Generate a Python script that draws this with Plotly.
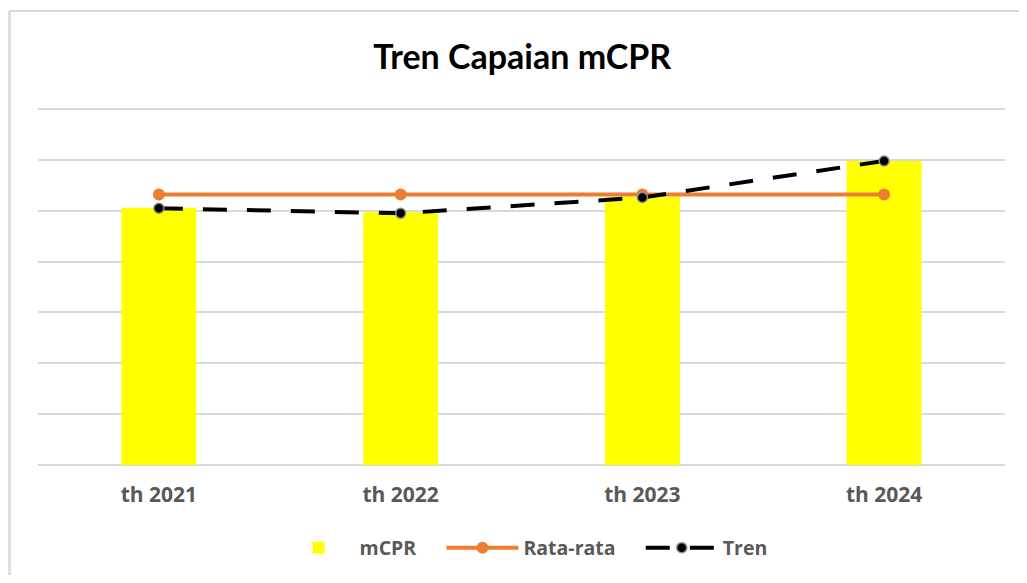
"""Tren Capaian mCPR chart"""

import plotly.graph_objects as go

YEARS = ["th 2021", "th 2022", "th 2023", "th 2024"]
MCPR = [50.6, 49.7, 52.7, 59.8]
RATA_RATA = [53.2, 53.2, 53.2, 53.2]
TREN = [50.5, 49.5, 52.6, 59.8]

# page body adds an 8px offset, so the figure is sized to fit the window
OFF = 8
W, H = 1027 - OFF, 583 - OFF - 8
PX_PER_UNIT = (465 - 109) / 70
L, R, T = 38 - OFF, 22, round(109 - OFF - PX_PER_UNIT)
B = H - (465 - OFF)
plot_w = W - L - R
plot_h = H - T - B

NB = "&nbsp;" * 4

fig = go.Figure()

fig.add_trace(go.Bar(
    x=YEARS, y=MCPR, name=f"<b>mCPR</b>{NB}",
    marker=dict(color="#FFFF00", line=dict(width=0)),
))
fig.add_trace(go.Scatter(
    x=YEARS, y=RATA_RATA, name=f"<b>Rata-rata</b>{NB}", mode="lines+markers",
    line=dict(color="#ED7D31", width=4),
    marker=dict(color="#ED7D31", size=12),
))
fig.add_trace(go.Scatter(
    x=YEARS, y=TREN, name="<b>Tren</b>", mode="lines+markers",
    line=dict(color="#000000", width=4, dash="24px,20px"),
    marker=dict(color="#000000", size=10, line=dict(color="#8C8C8C", width=1.5)),
))

# light outer frame (left and top edges visible)
px_x = lambda p: (p - OFF - L) / plot_w
px_y = lambda p: (H - B - (p - OFF)) / plot_h
fig.add_shape(type="line", xref="paper", yref="paper",
              x0=px_x(9.5), x1=px_x(1040), y0=px_y(11), y1=px_y(11),
              line=dict(color="#D9D9D9", width=2))
fig.add_shape(type="line", xref="paper", yref="paper",
              x0=px_x(9.5), x1=px_x(9.5), y0=px_y(11), y1=px_y(600),
              line=dict(color="#D9D9D9", width=2.5))

fig.update_layout(
    width=W, height=H,
    margin=dict(l=L, r=R, t=T, b=B, autoexpand=False),
    paper_bgcolor="white", plot_bgcolor="white",
    title=dict(text="<b>Tren Capaian mCPR</b>", x=px_x(526), xanchor="center",
               y=1 - (57 - OFF) / H, yanchor="middle",
               font=dict(family="Lato, sans-serif", size=34, color="#000000")),
    bargap=0.69,
    showlegend=True,
    legend=dict(orientation="h", x=px_x(525), xanchor="center",
                y=px_y(548), yanchor="middle",
                font=dict(family="Open Sans, sans-serif", size=19.5, color="#595959"),
                traceorder="normal", itemwidth=72),
    font=dict(family="Open Sans, sans-serif"),
)
fig.update_xaxes(
    showgrid=False, showline=False, zeroline=False, ticks="",
    tickvals=YEARS, ticktext=[f"<b>{y}</b>" for y in YEARS],
    tickfont=dict(family="Open Sans, sans-serif", size=21, color="#595959"),
    ticklabelstandoff=15, automargin=False,
)
fig.update_yaxes(
    range=[0, 71], dtick=10, showticklabels=False,
    showgrid=True, gridcolor="#D9D9D9", gridwidth=2,
    zeroline=True, zerolinecolor="#D9D9D9", zerolinewidth=2,
    showline=False, automargin=False,
)

fig.write_html("out.html")
